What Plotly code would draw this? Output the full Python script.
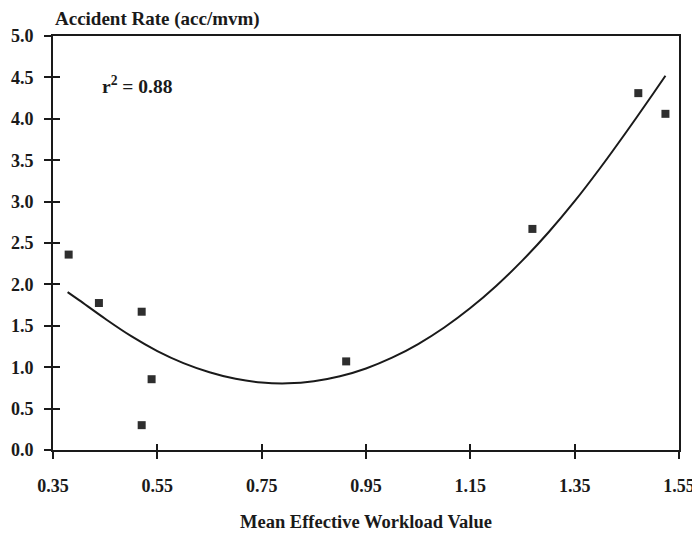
import plotly.graph_objects as go

# Observed data points
workload = [0.380, 0.438, 0.520, 0.539, 0.520, 0.912, 1.269, 1.472, 1.524]
accident_rate = [2.36, 1.775, 1.67, 0.855, 0.30, 1.07, 2.67, 4.31, 4.06]

# Fitted curve
fit_x = [0.378, 0.40, 0.45, 0.50, 0.55, 0.60, 0.65, 0.70, 0.75, 0.80, 0.85, 0.90, 0.95,
         1.00, 1.05, 1.10, 1.15, 1.20, 1.25, 1.30, 1.35, 1.40, 1.45, 1.50, 1.524]
fit_y = [1.907, 1.81, 1.585, 1.375, 1.195, 1.05, 0.94, 0.86, 0.815, 0.805, 0.83, 0.89, 0.985,
         1.115, 1.28, 1.48, 1.715, 1.985, 2.29, 2.63, 3.005, 3.415, 3.85, 4.30, 4.52]

x_ticks = [0.35, 0.55, 0.75, 0.95, 1.15, 1.35, 1.55]
x_tick_labels = ["0.35", "0.55", "0.75", "0.95", "1.15", "1.35", "1.55"]
y_ticks = [0.0, 0.5, 1.0, 1.5, 2.0, 2.5, 3.0, 3.5, 4.0, 4.5, 5.0]
y_tick_labels = ["0.0", "0.5", "1.0", "1.5", "2.0", "2.5", "3.0", "3.5", "4.0", "4.5", "5.0"]

FONT = "Liberation Serif"
INK = "#1a1a1a"

fig = go.Figure()
fig.add_trace(go.Scatter(x=fit_x, y=fit_y, mode="lines",
                         line=dict(color=INK, width=2, shape="spline", smoothing=1.0),
                         hoverinfo="skip", showlegend=False))
fig.add_trace(go.Scatter(x=workload, y=accident_rate, mode="markers",
                         marker=dict(symbol="square", size=8, color="#2e2e2e"), showlegend=False))
# invisible trace for overlay axes (inside halves of crossing ticks)
fig.add_trace(go.Scatter(x=[x_ticks[0]], y=[y_ticks[0]], xaxis="x2", yaxis="y2", mode="markers",
                         marker=dict(opacity=0), hoverinfo="skip", showlegend=False))

fig.update_layout(
    width=692, height=529,
    margin=dict(l=45, r=21, t=28, b=87),
    paper_bgcolor="white", plot_bgcolor="white",
    font=dict(family=FONT, size=17, color=INK),
    xaxis=dict(range=[0.35, 1.55], tickvals=x_ticks,
               ticktext=["<b>%s</b>" % t for t in x_tick_labels],
               showgrid=False, zeroline=False, showline=True, linewidth=2, linecolor=INK,
               mirror=True, ticks="outside", ticklen=7, tickwidth=2, tickcolor=INK,
               ticklabelstandoff=11, automargin=False,
               tickfont=dict(family=FONT, size=18, color=INK),
               title=dict(text="<b>Mean Effective Workload Value</b>",
                          font=dict(family=FONT, size=18.5), standoff=20)),
    yaxis=dict(range=[0, 5], tickvals=y_ticks,
               ticktext=["<b>%s</b>" % t for t in y_tick_labels],
               showgrid=False, zeroline=False, showline=True, linewidth=2, linecolor=INK,
               mirror=True, ticks="outside", ticklen=7, tickwidth=2, tickcolor=INK,
               ticklabelstandoff=7, automargin=False,
               tickfont=dict(family=FONT, size=18, color=INK)),
    xaxis2=dict(overlaying="x", matches="x", anchor="y2", side="bottom", tickvals=x_ticks,
                showticklabels=False, showgrid=False, zeroline=False, showline=False,
                ticks="inside", ticklen=6, tickwidth=2, tickcolor=INK, automargin=False),
    yaxis2=dict(overlaying="y", matches="y", anchor="x2", side="left", tickvals=y_ticks,
                showticklabels=False, showgrid=False, zeroline=False, showline=False,
                ticks="inside", ticklen=7, tickwidth=2, tickcolor=INK, automargin=False),
    annotations=[
        dict(text="<b>Accident Rate (acc/mvm)</b>", xref="paper", yref="paper", x=0.0, y=1.0,
             xanchor="left", yanchor="bottom", yshift=4, showarrow=False,
             font=dict(family=FONT, size=19, color=INK)),
        dict(text="<b>r<sup>2</sup> = 0.88</b>", xref="x", yref="y", x=0.44, y=4.41,
             xanchor="left", yanchor="middle", showarrow=False,
             font=dict(family=FONT, size=19.5, color=INK)),
    ],
)

fig.write_html("out.html")
